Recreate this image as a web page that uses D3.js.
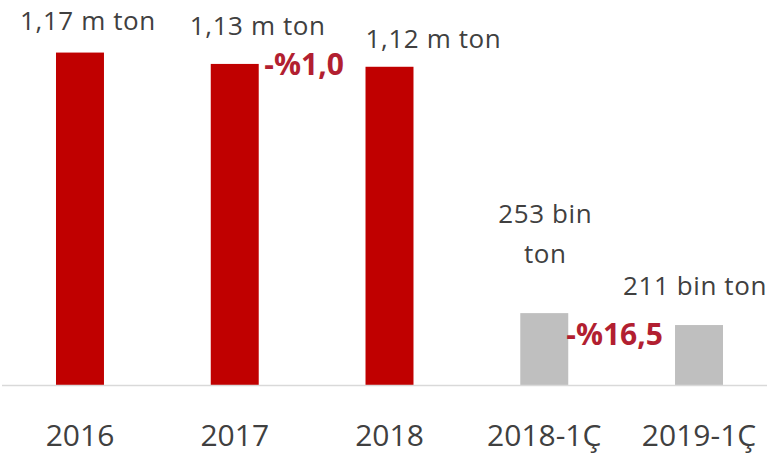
<!DOCTYPE html>
<html>
<head>
<meta charset="utf-8">
<script src="https://cdn.jsdelivr.net/npm/d3@7"></script>
<style>
  html, body { margin: 0; padding: 0; background: #fff; }
  svg { display: block; }
  .value-label { font-family: "Open Sans", sans-serif; font-size: 26px; letter-spacing: 0.6px; fill: #404040; }
  .axis-label { font-family: "Open Sans", sans-serif; font-size: 30px; fill: #404040; }
  .change-label { font-family: "Open Sans", sans-serif; font-size: 30px; font-weight: bold; fill: #b21f31; }
</style>
</head>
<body>
<svg id="chart"></svg>
<script>
'use strict';

// Data (thousand tons)
const categories = ['2016', '2017', '2018', '2018-1Ç', '2019-1Ç'];
const values = [1170, 1130, 1120, 253, 211];
const valueLabels = [['1,17 m ton'], ['1,13 m ton'], ['1,12 m ton'], ['253 bin', 'ton'], ['211 bin ton']];
const changeLabels = ['-%1,0', '-%16,5'];
const changePairs = [[1, 2], [3, 4]];

const width = 767;
const height = 455;
const baseline = 385;

// Label placement as done by hand in the source (offsets from bar centre / top)
const labelShift = [[8, -23], [23, -29], [44, -19], [1, -50], [-76, -30]];
const changeShift = [[-8, 75], [-7, 345]];

const svg = d3.select('#chart')
    .attr('width', width)
    .attr('height', height);

const x = d3.scaleBand()
    .domain(categories)
    .range([2.6, 776.4])
    .paddingInner(0.69)
    .paddingOuter(0.345);

const y = d3.scaleLinear()
    .domain([0, 1355])
    .range([baseline, 0]);

const colors = ['#c00000', '#c00000', '#c00000', '#bfbfbf', '#bfbfbf'];

// Bars
svg.append('g')
   .selectAll('rect')
   .data(values)
   .enter()
   .append('rect')
     .attr('x', (d, i) => x(categories[i]))
     .attr('y', d => y(d))
     .attr('width', x.bandwidth())
     .attr('height', d => y(0) - y(d))
     .attr('fill', (d, i) => colors[i]);

// Baseline
svg.append('line')
   .attr('x1', 2)
   .attr('x2', width)
   .attr('y1', baseline + 0.5)
   .attr('y2', baseline + 0.5)
   .attr('stroke', '#d9d9d9')
   .attr('stroke-width', 1.5);

// Category labels
const xAxis = d3.axisBottom(x).tickSize(0).tickPadding(0);
svg.append('g')
   .attr('transform', `translate(0, ${baseline})`)
   .call(xAxis)
   .call(g => g.select('.domain').remove())
   .call(g => g.selectAll('text')
       .attr('class', 'axis-label')
       .attr('dy', null)
       .attr('y', 61)
       .attr('font-family', null)
       .attr('font-size', null)
       .attr('fill', null));

// Value labels
const centre = i => x(categories[i]) + x.bandwidth() / 2;
valueLabels.forEach((lines, i) => {
    const lx = centre(i) + labelShift[i][0];
    const t = svg.append('text')
        .attr('class', 'value-label')
        .attr('text-anchor', i === 4 ? 'start' : 'middle')
        .attr('x', lx)
        .attr('y', y(values[i]) + labelShift[i][1] - (lines.length - 1) * 40);
    lines.forEach((line, j) => {
        t.append('tspan')
         .attr('x', lx)
         .attr('dy', j === 0 ? 0 : 40)
         .text(line);
    });
});

// Change labels between bar pairs
changeLabels.forEach((label, k) => {
    const [a, b] = changePairs[k];
    svg.append('text')
       .attr('class', 'change-label')
       .attr('text-anchor', 'middle')
       .attr('x', (centre(a) + centre(b)) / 2 + changeShift[k][0])
       .attr('y', changeShift[k][1])
       .text(label);
});
</script>
</body>
</html>
